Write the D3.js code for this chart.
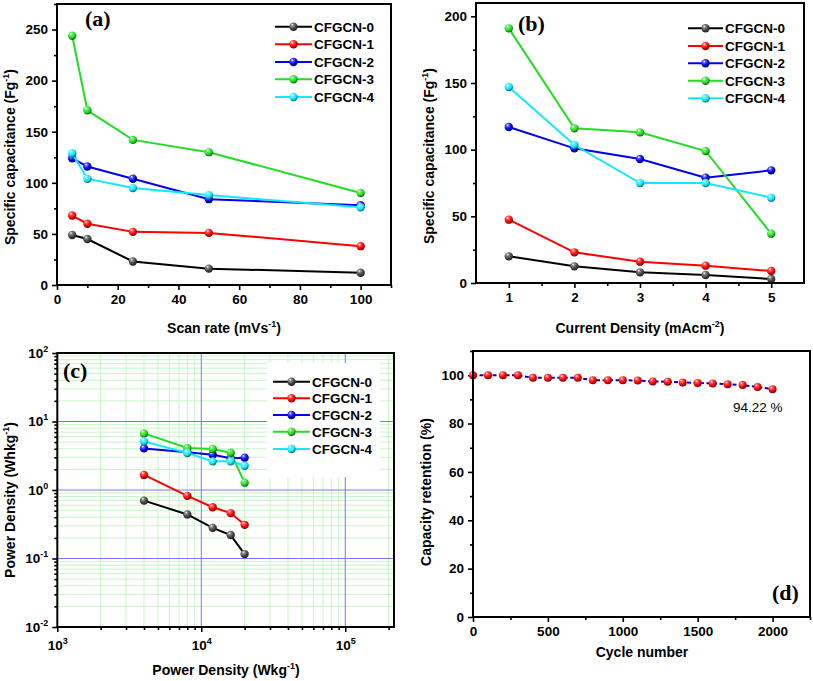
<!DOCTYPE html>
<html><head><meta charset="utf-8">
<script src="https://cdn.jsdelivr.net/npm/d3@7"></script>
<style>body{margin:0;background:#fff} text{font-family:"Liberation Sans",Arial,sans-serif}</style>
</head><body><svg id="chart" width="813" height="681"></svg>
<script>
// ---------------- DATA ----------------
const seriesNames = ["CFGCN-0","CFGCN-1","CFGCN-2","CFGCN-3","CFGCN-4"];
const seriesColors = ["#000000","#ff0000","#0000ee","#22dd22","#11e8ff"];

// (a) specific capacitance vs scan rate
const scanRates = [5,10,25,50,100];
const capScan0 = [49,45,23,16,12];
const capScan1 = [68,60,52,51,38];
const capScan2 = [124,116,104,84,78];
const capScan3 = [244,171,142,130,90];
const capScan4 = [129,104,95,88,76];

// (b) specific capacitance vs current density
const currentDensities = [1,2,3,4,5];
const capCurrent0 = [20,12.5,8,6,3];
const capCurrent1 = [47.5,23,16,13,9];
const capCurrent2 = [117,101,93,79,84.5];
const capCurrent3 = [191,116,113,99,37];
const capCurrent4 = [147,103.5,75,75,64];

// (c) Ragone
const powerDensities = [4000,8000,12000,16000,20000];
const energy0 = [0.70,0.44,0.28,0.22,0.116];
const energy1 = [1.66,0.82,0.56,0.46,0.31];
const energy2 = [4.05,3.55,3.27,2.9,2.96];
const energy3 = [6.7,4.1,3.97,3.5,1.28];
const energy4 = [5.13,3.47,2.62,2.62,2.26];

// (d) cycling
const cycles = [0,100,200,300,400,500,600,700,800,900,1000,1100,1200,1300,1400,1500,1600,1700,1800,1900,2000];
const retention = [100,100,100,100,98.9,98.9,98.9,98.9,97.9,97.9,97.9,97.8,97.4,97.3,97.0,96.8,96.6,96.3,95.9,95.1,94.22];

// tick values
const aXTicks = [0,20,40,60,80,100], aXMinor = [10,30,50,70,90,110];
const aYTicks = [0,50,100,150,200,250], aYMinor = [25,75,125,175,225,275];
const bXTicks = [1,2,3,4,5], bXMinor = [1.5,2.5,3.5,4.5];
const bYTicks = [0,50,100,150,200], bYMinor = [25,75,125,175];
const cXExps = [3,4,5], cYExps = [-2,-1,0,1,2];
const dXTicks = [0,500,1000,1500,2000], dXMinor = [250,750,1250,1750,2250];
const dYTicks = [0,20,40,60,80,100], dYMinor = [10,30,50,70,90,110];

// ---------------- DRAW ----------------
const svg = d3.select("#chart");
const defs = svg.append("defs");
function shade(c,k){const h=d3.hsl(c); return k>0? d3.interpolateRgb(c,"#fff")(k) : d3.interpolateRgb(c,"#000")(-k);}
const gradIds = {};
function grad(color){
  if(gradIds[color]) return gradIds[color];
  const id="g"+Object.keys(gradIds).length;
  const g=defs.append("radialGradient").attr("id",id).attr("cx","38%").attr("cy","32%").attr("r","68%").attr("fx","35%").attr("fy","28%");
  const base = color==="#000000" ? "#444444" : color;
  g.append("stop").attr("offset","0%").attr("stop-color","#ffffff");
  g.append("stop").attr("offset","25%").attr("stop-color",shade(base,0.35));
  g.append("stop").attr("offset","65%").attr("stop-color",base);
  g.append("stop").attr("offset","100%").attr("stop-color",shade(base,-0.55));
  gradIds[color]="url(#"+id+")";
  return gradIds[color];
}

function axes(g, x, y, o){
  const fs = 13.5;
  const bottom = y.range()[0], left = x.range()[0];
  const xa = g.append("g").attr("transform",`translate(0,${bottom})`)
    .call(d3.axisBottom(x).tickValues(o.xt).tickSize(5).tickPadding(4).tickFormat(o.xf||d3.format("")));
  const xm = g.append("g").attr("transform",`translate(0,${bottom})`)
    .call(d3.axisBottom(x).tickValues(o.xm).tickSize(3).tickFormat(""));
  const ya = g.append("g").attr("transform",`translate(${left},0)`)
    .call(d3.axisLeft(y).tickValues(o.yt).tickSize(5).tickPadding(4).tickFormat(o.yf||d3.format("")));
  const ym = g.append("g").attr("transform",`translate(${left},0)`)
    .call(d3.axisLeft(y).tickValues(o.ym).tickSize(3).tickFormat(""));
  [xa,xm,ya,ym].forEach(s=>{
    s.select(".domain").remove();
    s.selectAll("line").attr("stroke","#000").attr("stroke-width",1.6);
    s.selectAll("text").attr("font-size",fs).attr("font-weight","bold").attr("fill","#000")
      .style("font-family",'"Liberation Sans",Arial,sans-serif');
  });
  return {xa,ya};
}
function frame(g,x,y){
  const [x0,x1]=x.range(), [y0,y1]=y.range();
  g.append("rect").attr("x",x0).attr("y",y1).attr("width",x1-x0).attr("height",y0-y1)
    .attr("fill","none").attr("stroke","#000").attr("stroke-width",2);
}
function yTitle(g,xb,yc,main,sup,tail){
  const t=g.append("text").attr("transform",`translate(${xb},${yc}) rotate(-90)`)
    .attr("text-anchor","middle").attr("font-size",14).attr("font-weight","bold");
  t.append("tspan").text(main);
  t.append("tspan").attr("dy",-6).attr("font-size",9).text(sup);
  t.append("tspan").attr("dy",6).text(tail);
}
function xTitle(g,xc,yb,main,sup,tail){
  const t=g.append("text").attr("x",xc).attr("y",yb)
    .attr("text-anchor","middle").attr("font-size",14).attr("font-weight","bold");
  t.append("tspan").text(main);
  if(sup){t.append("tspan").attr("dy",-6).attr("font-size",9).text(sup);
  t.append("tspan").attr("dy",6).text(tail);}
}
function panelLabel(g,x,y,s){
  g.append("text").attr("x",x).attr("y",y).attr("font-size",22).attr("font-weight","bold")
    .style("font-family",'"Liberation Serif","Times New Roman",serif').text(s);
}
function series(g,x,y,xs,ys,color,opts={}){
  const line=d3.line().x((d,i)=>x(xs[i])).y(d=>y(d));
  g.append("path").datum(ys).attr("d",line).attr("fill","none")
    .attr("stroke",opts.lineColor||color).attr("stroke-width",2)
    .attr("stroke-dasharray",opts.dash||null);
  g.selectAll(null).data(ys).enter().append("circle")
    .attr("cx",(d,i)=>x(xs[i])).attr("cy",d=>y(d)).attr("r",opts.r||4.2)
    .attr("fill",grad(color));
}
function legend(g,lx1,lx2,ys){
  seriesNames.forEach((n,i)=>{
    g.append("line").attr("x1",lx1).attr("x2",lx2).attr("y1",ys[i]).attr("y2",ys[i])
      .attr("stroke",seriesColors[i]).attr("stroke-width",2);
    g.append("circle").attr("cx",(lx1+lx2)/2).attr("cy",ys[i]).attr("r",4.2).attr("fill",grad(seriesColors[i]));
    g.append("text").attr("x",lx2+2).attr("y",ys[i]+5).attr("font-size",13.5).attr("font-weight","bold").text(n);
  });
}

// ---- (a)
{
  const g=svg.append("g");
  const x=d3.scaleLinear().domain([0,110]).range([57,391]);
  const y=d3.scaleLinear().domain([0,275]).range([285,4]);
  axes(g,x,y,{xt:aXTicks,xm:aXMinor,yt:aYTicks,ym:aYMinor});
  [capScan0,capScan1,capScan2,capScan3,capScan4].forEach((s,i)=>series(g,x,y,scanRates,s,seriesColors[i]));
  frame(g,x,y);
  legend(g,275,312,[26.7,44.3,62,79.3,97]);
  yTitle(g,15,157,"Specific capacitance (Fg","-1",")");
  xTitle(g,224,333,"Scan rate (mVs","-1",")");
  panelLabel(g,85,26,"(a)");
}
// ---- (b)
{
  const g=svg.append("g");
  const x=d3.scaleLinear().domain([0.5,5.5]).range([476,804]);
  const y=d3.scaleLinear().domain([0,210]).range([283,3]);
  axes(g,x,y,{xt:bXTicks,xm:bXMinor,yt:bYTicks,ym:bYMinor});
  [capCurrent0,capCurrent1,capCurrent2,capCurrent3,capCurrent4].forEach((s,i)=>series(g,x,y,currentDensities,s,seriesColors[i]));
  frame(g,x,y);
  legend(g,688,723,[28.3,46,63.3,80.7,98.3]);
  yTitle(g,434,156,"Specific capacitance (Fg","-1",")");
  xTitle(g,640,333,"Current Density (mAcm","-2",")");
  panelLabel(g,518,31,"(b)");
}
// ---- (c)
{
  const g=svg.append("g");
  const x=d3.scaleLog().domain([1e3,2.18e5]).range([57.3,394]);
  const y=d3.scaleLog().domain([1e-2,1e2]).range([627,353]);
  const xMinorVals=[], yMinorVals=[];
  [1e3,1e4,1e5].forEach(b=>{for(let k=2;k<=9;k++){const v=k*b; if(v<=2.18e5) xMinorVals.push(v);}});
  [1e-2,1e-1,1,10].forEach(b=>{for(let k=2;k<=9;k++) yMinorVals.push(k*b);});
  const grid=g.append("g");
  xMinorVals.forEach(v=>grid.append("line").attr("x1",x(v)).attr("x2",x(v)).attr("y1",353).attr("y2",627).attr("stroke","#c8f5c8").attr("stroke-width",1));
  yMinorVals.forEach(v=>grid.append("line").attr("x1",57.3).attr("x2",394).attr("y1",y(v)).attr("y2",y(v)).attr("stroke","#c8f5c8").attr("stroke-width",1));
  [1e4,1e5].forEach(v=>grid.append("line").attr("x1",x(v)).attr("x2",x(v)).attr("y1",353).attr("y2",627).attr("stroke","#7777ee").attr("stroke-width",1));
  [1e-1,1,10].forEach(v=>grid.append("line").attr("x1",57.3).attr("x2",394).attr("y1",y(v)).attr("y2",y(v)).attr("stroke","#7777ee").attr("stroke-width",1));
  g.append("rect").attr("x",267).attr("y",363).attr("width",113).attr("height",114).attr("fill","#fff");
  const {xa,ya}=axes(g,x,y,{xt:cXExps.map(e=>Math.pow(10,e)),xm:xMinorVals,yt:cYExps.map(e=>Math.pow(10,e)),ym:yMinorVals,xf:()=>"",yf:()=>""});
  xa.selectAll(".tick text").each(function(d){
    const t=d3.select(this); t.text(null).attr("dy","1.05em");
    t.append("tspan").text("10"); t.append("tspan").attr("dy",-6).attr("font-size",9).text(Math.round(Math.log10(d)));
  });
  ya.selectAll(".tick text").each(function(d){
    const t=d3.select(this); t.text(null);
    t.append("tspan").text("10"); t.append("tspan").attr("dy",-6).attr("font-size",9).text(Math.round(Math.log10(d)));
  });
  [energy0,energy1,energy2,energy3,energy4].forEach((s,i)=>series(g,x,y,powerDensities,s,seriesColors[i]));
  frame(g,x,y);
  legend(g,273,310,[381.7,398.3,415,431.7,449]);
  yTitle(g,15,500,"Power Density (Whkg","-1",")");
  xTitle(g,226,675,"Power Density (Wkg","-1",")");
  panelLabel(g,63,378,"(c)");
}
// ---- (d)
{
  const g=svg.append("g");
  const x=d3.scaleLinear().domain([0,2250]).range([473,810]);
  const y=d3.scaleLinear().domain([0,110]).range([617,351]);
  axes(g,x,y,{xt:dXTicks,xm:dXMinor,yt:dYTicks,ym:dYMinor});
  series(g,x,y,cycles,retention,"#ff0000",{lineColor:"#0000cc",dash:"4,2.5",r:4});
  frame(g,x,y);
  g.append("text").attr("x",733).attr("y",412).attr("font-size",13.5).text(retention[retention.length-1].toFixed(2)+" %");
  yTitle(g,431,492,"Capacity retention (%)","","");
  xTitle(g,642,657,"Cycle number");
  panelLabel(g,772,600,"(d)");
}
</script></body></html>
